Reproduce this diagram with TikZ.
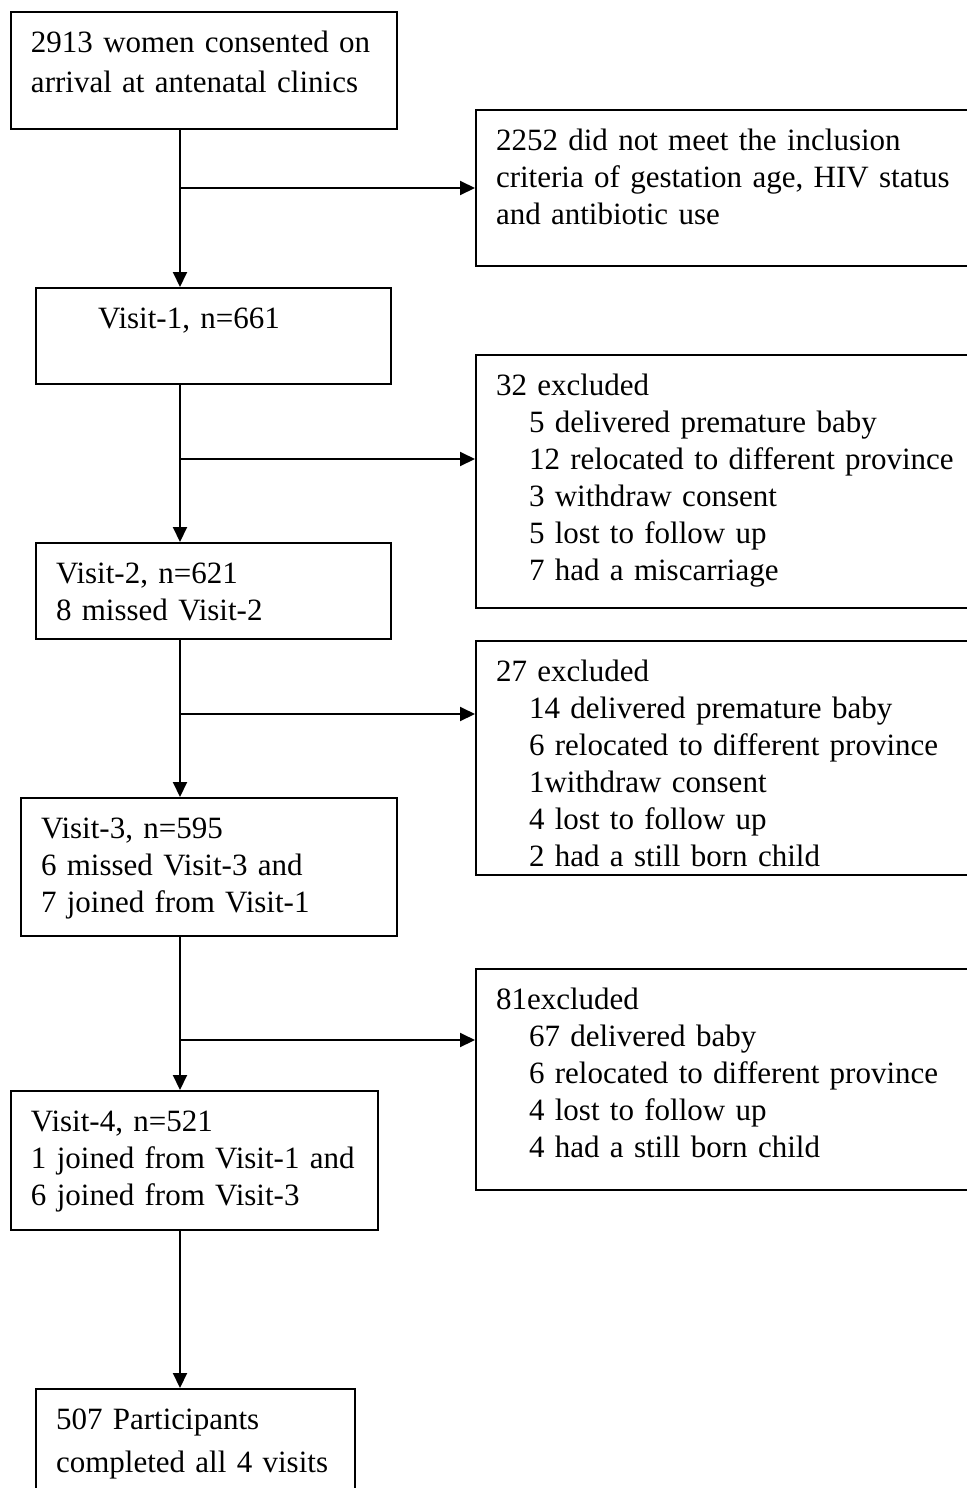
\documentclass[tikz,border=0pt]{standalone}
\usepackage{fontspec}
\setmainfont{Liberation Serif}
\usetikzlibrary{arrows.meta,positioning}

\begin{document}
\begin{tikzpicture}[x=0.5pt,y=-0.5pt,
    box/.style={rectangle, draw=black, line width=1pt, anchor=north west,
                align=left, inner xsep=10pt, inner ysep=0pt, text height=20pt,
                font=\fontsize{15.5pt}{18.5pt}\selectfont},
    sidebox/.style={box, text width=232.5pt},
    arrow/.style={-{Triangle[length=7.5pt,width=7pt]}, line width=1pt}
  ]
  \clip (0,0) rectangle (967,1488);
  \fill[white] (0,0) rectangle (967,1488);

  % main column
  \node[box, text width=173pt, text depth=38.5pt] (consent) at (10,11)
    {2913 women consented on\\[2pt]arrival at antenatal clinics};
  \node[box, text width=157.5pt, text depth=28pt] (visit1) at (35,287)
    {\hspace*{21pt}Visit-1, n=661};
  \node[box, text width=157.5pt, text depth=28pt] (visit2) at (35,542)
    {Visit-2, n=621\\8 missed Visit-2};
  \node[box, text width=168pt, text depth=49pt] (visit3) at (20,797)
    {Visit-3, n=595\\6 missed Visit-3 and\\7 joined from Visit-1};
  \node[box, text width=163.5pt, text depth=49.5pt] (visit4) at (10,1090)
    {Visit-4, n=521\\1 joined from Visit-1 and\\6 joined from Visit-3};
  \node[box, text width=139.5pt, text depth=40pt] (completed) at (35,1388)
    {507 Participants\\[3pt]completed all 4 visits};

  % exclusions
  \node[sidebox, text depth=58pt] (notmet) at (475,109)
    {2252 did not meet the inclusion\\criteria of gestation age, HIV status\\and antibiotic use};
  \node[sidebox, text depth=106.5pt] (excl1) at (475,354)
    {32 excluded\\
     \hspace*{16.5pt}5 delivered premature baby\\
     \hspace*{16.5pt}12 relocated to different province\\
     \hspace*{16.5pt}3 withdraw consent\\
     \hspace*{16.5pt}5 lost to follow up\\
     \hspace*{16.5pt}7 had a miscarriage};
  \node[sidebox, text depth=97pt] (excl2) at (475,640)
    {27 excluded\\
     \hspace*{16.5pt}14 delivered premature baby\\
     \hspace*{16.5pt}6 relocated to different province\\
     \hspace*{16.5pt}1withdraw consent\\
     \hspace*{16.5pt}4 lost to follow up\\
     \hspace*{16.5pt}2 had a still born child};
  \node[sidebox, text depth=90.5pt] (excl3) at (475,968)
    {81excluded\\
     \hspace*{16.5pt}67 delivered baby\\
     \hspace*{16.5pt}6 relocated to different province\\
     \hspace*{16.5pt}4 lost to follow up\\
     \hspace*{16.5pt}4 had a still born child};

  % branch points on the spine
  \coordinate (j1) at (180,188);
  \coordinate (j2) at (180,459);
  \coordinate (j3) at (180,714);
  \coordinate (j4) at (180,1040);

  \draw[arrow] (consent.south -| j1) -- (visit1.north -| j1);
  \draw[arrow] (visit1.south -| j2) -- (visit2.north -| j2);
  \draw[arrow] (visit2.south -| j3) -- (visit3.north -| j3);
  \draw[arrow] (visit3.south -| j4) -- (visit4.north -| j4);
  \draw[arrow] (visit4.south -| j4) -- (completed.north -| j4);

  \draw[arrow] (j1) -- (j1 -| notmet.west);
  \draw[arrow] (j2) -- (j2 -| excl1.west);
  \draw[arrow] (j3) -- (j3 -| excl2.west);
  \draw[arrow] (j4) -- (j4 -| excl3.west);
\end{tikzpicture}
\end{document}
